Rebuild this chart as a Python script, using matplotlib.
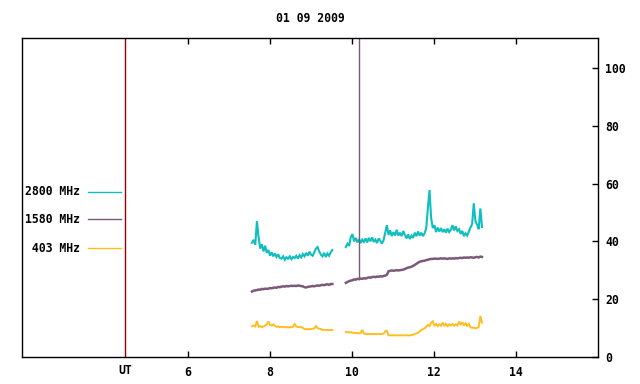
import numpy as np
import matplotlib
matplotlib.use("Agg")
import matplotlib.pyplot as plt
import matplotlib.transforms as mtransforms

title = "01 09 2009"
labels = ["2800 MHz", "1580 MHz", " 403 MHz"]
colors = ["#10bebe", "#7a5a7a", "#ffbe20"]

# segment time ranges (UT hours), sampled every 0.04 h
seg1_start, seg1_end = 7.56, 9.52
seg2_start, seg2_end = 9.85, 13.17

f2800_seg1 = [39.5, 40.5, 38.8, 47.0, 41.5, 37.5, 39.0, 36.5, 38.5, 36.0,
              37.0, 35.0, 36.2, 34.8, 35.8, 34.6, 35.5, 34.2, 34.0, 34.8,
              33.6, 34.5, 34.0, 34.8, 33.8, 34.6, 34.2, 35.0, 34.0, 35.2,
              34.4, 35.6, 34.8, 36.0, 35.0, 36.4, 35.4, 35.0, 36.2, 37.5,
              38.0, 36.5, 35.4, 34.8, 36.0, 34.6, 35.8, 35.0, 36.2, 37.0]
f2800_seg2 = [38.0, 39.2, 38.4, 41.5, 42.5, 40.0, 41.2, 39.6, 40.8, 39.4,
              40.6, 39.8, 41.0, 39.6, 41.2, 40.0, 41.4, 39.8, 40.6, 39.4,
              41.0, 40.2, 39.2, 40.4, 43.0, 45.6, 42.2, 43.8, 41.8, 43.2,
              42.0, 44.0, 42.0, 43.0, 41.8, 43.6, 42.2, 41.0, 42.4, 40.8,
              42.0, 41.2, 43.0, 41.8, 43.4, 42.0, 43.0, 41.8, 42.8, 44.5,
              51.5, 57.8, 48.0, 44.6, 45.6, 43.2, 44.8, 43.4, 44.6, 43.2,
              44.2, 43.0, 44.4, 43.2, 44.0, 45.6, 43.8, 45.2, 43.6, 44.2,
              42.6, 43.6, 41.8, 42.8, 42.0, 43.4, 44.8, 46.0, 53.2, 47.0,
              45.8, 44.2, 51.4, 45.0]

f1580_seg1 = [22.6, 22.9, 23.0, 23.1, 23.3, 23.2, 23.5, 23.4, 23.6, 23.5,
              23.6, 23.8, 23.7, 23.9, 24.0, 23.9, 24.2, 24.1, 24.3, 24.4,
              24.3, 24.5, 24.4, 24.5, 24.6, 24.5, 24.6, 24.5, 24.7, 24.6,
              24.5, 24.4, 24.1, 24.0, 24.2, 24.3, 24.4, 24.5, 24.4, 24.6,
              24.7, 24.6, 24.8, 24.9, 24.8, 25.0, 25.1, 24.9, 25.2, 25.2]
f1580_seg2 = [25.6, 25.9, 26.2, 26.4, 26.5, 26.8, 26.7, 27.0, 26.9, 27.1,
              27.0, 27.2, 27.1, 27.3, 27.5, 27.4, 27.6, 27.7, 27.6, 27.8,
              27.7, 27.9, 27.8, 28.0, 28.1, 28.4, 29.6, 29.8, 29.9, 29.8,
              29.9, 30.0, 29.9, 30.0, 30.1, 30.2, 30.4, 30.7, 30.9, 31.0,
              31.2, 31.5, 31.8, 32.2, 32.6, 32.9, 33.1, 33.2, 33.3, 33.5,
              33.6, 33.8, 33.9, 33.9, 34.0, 34.0, 33.9, 34.0, 34.1, 34.0,
              34.1, 34.0, 33.9, 34.1, 34.0, 34.1, 34.0, 34.2, 34.1, 34.2,
              34.3, 34.2, 34.4, 34.3, 34.4, 34.3, 34.5, 34.4, 34.3, 34.5,
              34.6, 34.4, 34.7, 34.6]
# single off-scale burst in 1580 MHz
f1580_spike_time = 10.18
f1580_spike_values = [27.0, 200.0]

f403_seg1 = [10.6, 10.8, 10.5, 12.4, 10.4, 10.6, 10.2, 10.5, 10.8, 11.2,
             12.2, 11.0, 10.8, 11.2, 10.6, 10.4, 10.5, 10.2, 10.4, 10.3,
             10.2, 10.3, 10.1, 10.3, 10.2, 10.4, 11.3, 10.5, 10.3, 10.2,
             10.3, 10.0, 9.6, 9.5, 9.6, 9.5, 9.6, 9.7, 9.8, 10.6,
             9.9, 9.7, 9.6, 9.3, 9.3, 9.2, 9.3, 9.2, 9.3, 9.2]
f403_seg2 = [8.5, 8.6, 8.4, 8.5, 8.3, 8.3, 8.2, 8.2, 8.1, 8.2,
             9.3, 8.0, 7.9, 7.8, 7.9, 7.8, 7.9, 7.8, 7.9, 7.8,
             7.9, 7.8, 7.9, 8.0, 8.8, 9.0, 7.4, 7.4, 7.4, 7.4,
             7.4, 7.4, 7.4, 7.4, 7.4, 7.4, 7.4, 7.4, 7.4, 7.4,
             7.5, 7.6, 7.9, 8.1, 8.3, 8.8, 9.2, 9.6, 9.8, 10.4,
             11.0, 10.6, 11.8, 12.3, 10.8, 11.3, 10.6, 11.2, 10.7, 11.8,
             10.8, 11.4, 10.6, 11.2, 10.8, 11.3, 10.7, 11.2, 10.8, 12.2,
             11.0, 12.0, 10.8, 11.6, 10.7, 11.4, 10.2, 10.0, 10.1, 9.8,
             10.0, 10.3, 14.1, 11.8]

ut_marker = 4.46
xticks = [6, 8, 10, 12, 14]
yticks = [0, 20, 40, 60, 80, 100]
xlim = (1.95, 16.0)
ylim = (0, 110.5)

plt.rcParams['font.family'] = ['DejaVu Sans Mono']
plt.rcParams['font.weight'] = 'bold'
fs = 8.3

fig = plt.figure(figsize=(6.4, 3.84), dpi=100)
ax = fig.add_axes([22/640, 1 - 356.7/384, 576/640, 318.7/384])

def seg_times(start, end, n):
    return np.linspace(start, end, n)

series = [
    (f2800_seg1, f2800_seg2, 1.5),
    (f1580_seg1, f1580_seg2, 1.8),
    (f403_seg1, f403_seg2, 1.4),
]
for k, (s1, s2, lw) in enumerate(series):
    t1 = seg_times(seg1_start, seg1_end, len(s1))
    t2 = seg_times(seg2_start, seg2_end, len(s2))
    ax.plot(t1, s1, color=colors[k], lw=lw, solid_joinstyle='miter')
    ax.plot(t2, s2, color=colors[k], lw=lw, solid_joinstyle='miter')

# burst in 1580 MHz (goes off scale)
ax.plot([f1580_spike_time, f1580_spike_time], f1580_spike_values,
        color=colors[1], lw=1.0)

# UT marker line
ax.axvline(ut_marker, color="#9a0000", lw=1.0)

ax.set_xlim(*xlim)
ax.set_ylim(*ylim)
ax.set_xticks(xticks)
ax.set_yticks(yticks)
ax.tick_params(axis='x', direction='in', length=4, width=1, top=True, bottom=True,
               labelsize=fs, pad=7)
ax.tick_params(axis='y', direction='in', length=4, width=1, left=False, right=True,
               labelleft=False, labelright=True, labelsize=fs, pad=5)
for lab in ax.get_xticklabels() + ax.get_yticklabels():
    lab.set_fontweight('bold')
for sp in ax.spines.values():
    sp.set_linewidth(1.0)
    sp.set_color('black')

trans = mtransforms.blended_transform_factory(ax.transData, ax.transAxes)
ax.text(ut_marker, -0.022, "UT", transform=trans, ha='center', va='top',
        fontsize=fs, fontweight='bold')

# legend on the left
leg_y = [0.5177, 0.4311, 0.3401]
for k in range(3):
    ax.plot([0.1146, 0.1719], [leg_y[k], leg_y[k]], color=colors[k], lw=1.0,
            transform=ax.transAxes)
    ax.text(0.1007, leg_y[k], labels[k], transform=ax.transAxes, ha='right',
            va='center', fontsize=fs, fontweight='bold')

fig.text(310/640, 1 - 19/384, title, ha='center', va='center', fontsize=fs,
         fontweight='bold')

fig.savefig("out.png", dpi=100)
